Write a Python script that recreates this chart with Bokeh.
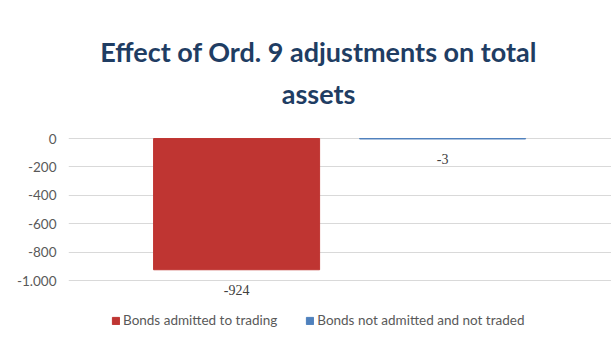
from bokeh.plotting import figure
from bokeh.models import (ColumnDataSource, Range1d, Legend, LegendItem, Label,
                          LabelSet, CustomJSTickFormatter, FixedTicker)
from bokeh.embed import file_html
from bokeh.resources import INLINE

# ---- data ----
series = ["Bonds admitted to trading", "Bonds not admitted and not traded"]
values = [-924, -3]
value_labels = ["-924", "-3"]
colors = ["#BF3532", "#4F81BD"]
y_ticks = [0, -200, -400, -600, -800, -1000]
title_lines = ["Effect of Ord. 9 adjustments on total", "assets"]

FONT = "Lato"

src = ColumnDataSource(dict(
    x=list(range(len(series))),
    top=[0] * len(values),
    bottom=values,
    series=series,
    label=value_labels,
    color=colors,
))

p = figure(width=611, height=338, output_backend="svg", toolbar_location=None,
           x_range=Range1d(-0.816, 1.82), y_range=Range1d(-1408, 972),
           min_border_left=68, min_border_right=0, min_border_top=0,
           min_border_bottom=0)
p.title = None
p.outline_line_color = None

r = p.vbar(x="x", top="top", bottom="bottom", width=0.806, fill_color="color",
           line_color="color", line_width=1, source=src)

labels = LabelSet(x="x", y="bottom", text="label", source=src, y_offset=-20,
                  text_align="center", text_baseline="middle",
                  text_font=FONT, text_font_size="14px", text_color="#404040")
p.add_layout(labels)

# title (two lines)
for txt, ty in zip(title_lines, [612, 316]):
    p.add_layout(Label(x=0.398, y=ty, text=txt, text_align="center",
                       text_baseline="alphabetic", text_font=FONT,
                       text_font_size="27px", text_font_style="bold",
                       text_color="#1F3D63"))

p.xaxis.visible = False
p.xgrid.visible = False
p.yaxis.ticker = FixedTicker(ticks=y_ticks)
p.yaxis.formatter = CustomJSTickFormatter(code="""
    return tick.toFixed(0).replace(/\\B(?=(\\d{3})+(?!\\d))/g, '.');
""")
p.yaxis.axis_line_color = None
p.yaxis.major_tick_line_color = None
p.yaxis.major_tick_out = 0
p.yaxis.major_tick_in = 0
p.yaxis.minor_tick_line_color = None
p.yaxis.major_label_standoff = 12
p.yaxis.major_label_text_font = FONT
p.yaxis.major_label_text_font_size = "13.5px"
p.yaxis.major_label_text_color = "#595959"
p.ygrid.grid_line_color = "#d9d9d9"
p.ygrid.ticker = FixedTicker(ticks=y_ticks)

items = [LegendItem(label=series[i], renderers=[r], index=i) for i in range(len(series))]
legend = Legend(items=items, orientation="horizontal", location=(43, 10),
                label_text_font=FONT, label_text_font_size="13.5px",
                label_text_color="#595959", glyph_width=9, glyph_height=9,
                label_standoff=3, spacing=28, border_line_color=None,
                background_fill_alpha=0, margin=0, padding=4)
p.add_layout(legend)

open("out.html", "w").write(file_html(p, INLINE))
